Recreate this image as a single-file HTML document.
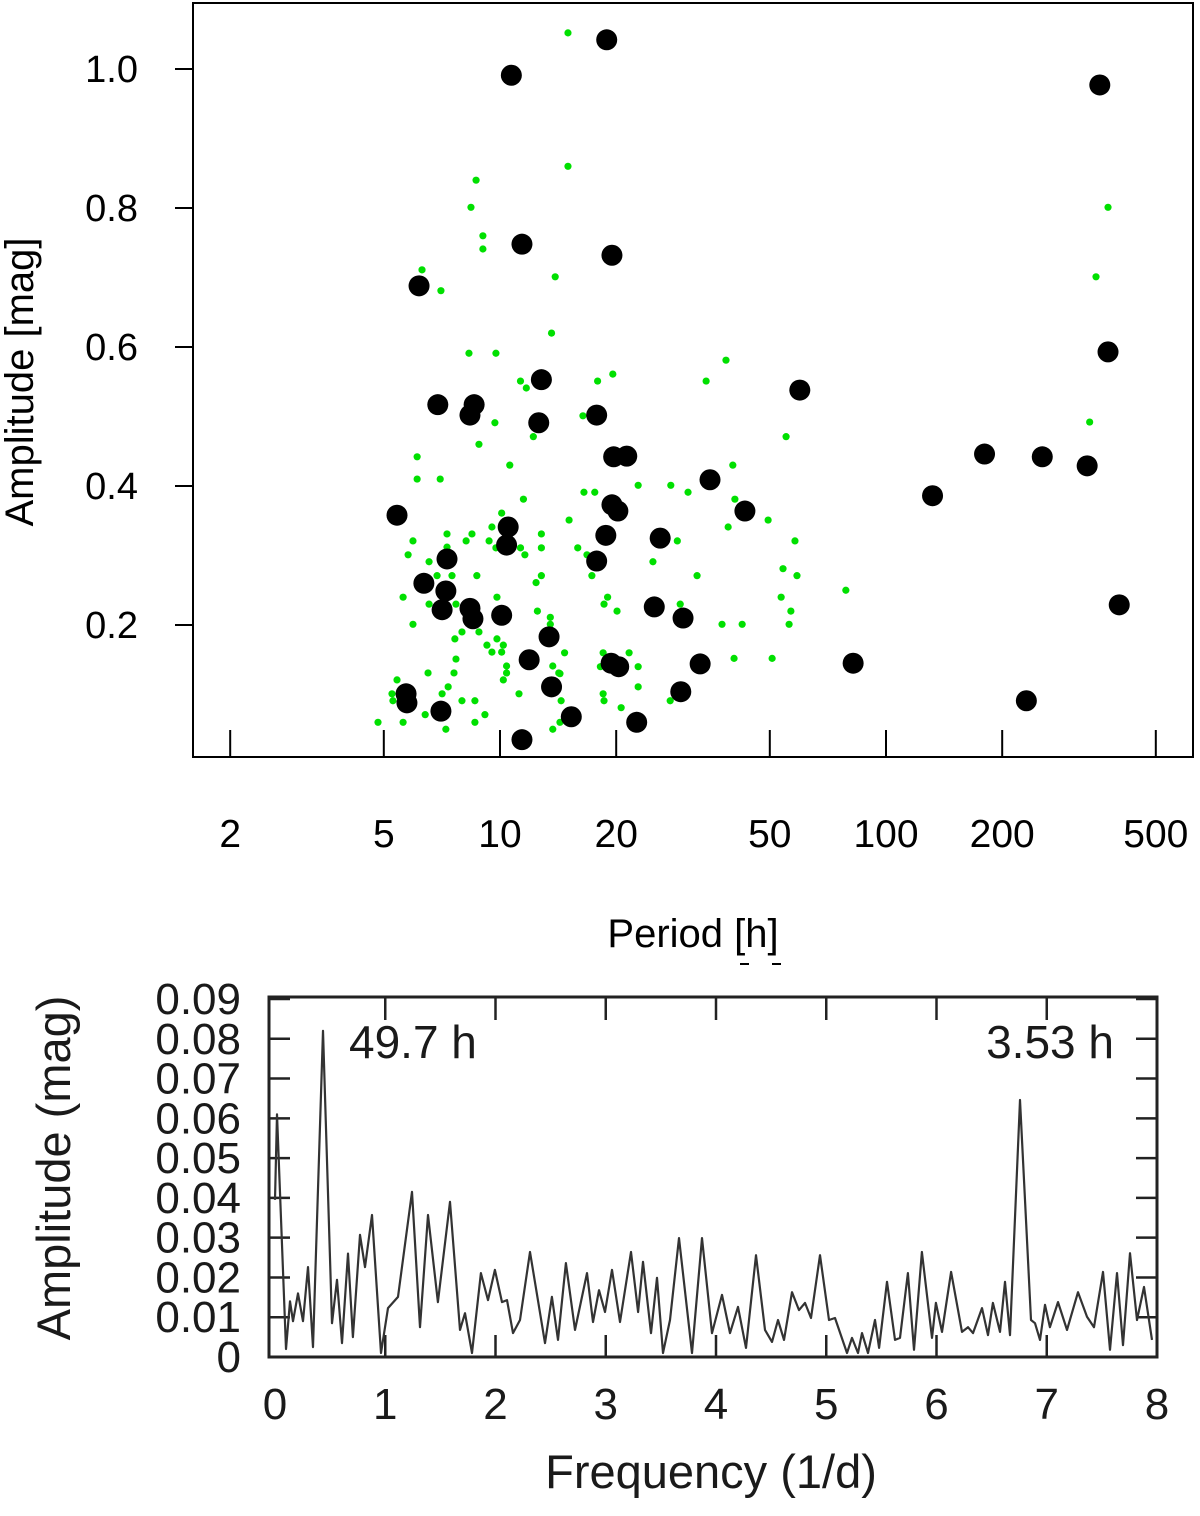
<!DOCTYPE html>
<html><head><meta charset="utf-8"><style>
html,body{margin:0;padding:0;background:#fff}
svg{display:block}
text{font-family:"Liberation Sans",Arial,sans-serif}
</style></head><body>
<svg id="fig" width="1200" height="1516" viewBox="0 0 1200 1516" xmlns="http://www.w3.org/2000/svg">
<g id="topChart"></g>
<g id="botChart"></g>
</svg>
<script>
// ---- Top scatter data ----
const blackPeriod=[18.9,10.7,358,11.4,19.5,6.17,376,59.8,12.8,6.90,8.57,8.36,17.8,12.6,180,19.7,21.3,254,332,35.0,132,19.5,20.2,43.1,5.41,10.5,18.8,26.0,10.4,7.29,17.8,6.35,7.24,7.08,8.36,8.51,10.1,25.1,29.8,402,13.4,11.9,19.4,20.3,33.0,82.2,5.71,5.74,13.6,29.4,231,7.03,15.3,22.6,11.4];
const blackAmp=[1.042,0.991,0.977,0.748,0.732,0.688,0.593,0.538,0.553,0.517,0.517,0.502,0.502,0.491,0.446,0.442,0.443,0.442,0.429,0.409,0.386,0.373,0.364,0.364,0.358,0.341,0.329,0.325,0.315,0.295,0.292,0.260,0.249,0.222,0.224,0.209,0.214,0.226,0.210,0.229,0.183,0.150,0.145,0.140,0.144,0.145,0.101,0.088,0.111,0.104,0.091,0.076,0.068,0.060,0.035];
const greenPeriod=[15.0,15.0,8.67,8.41,9.03,9.03,6.28,7.03,13.9,13.6,8.31,9.76,11.3,11.7,17.9,9.70,12.2,8.82,16.4,376,350,337,19.6,34.2,38.5,55.1,40.1,22.8,27.7,16.5,17.6,30.7,40.6,49.5,39.0,15.1,28.8,58.1,15.9,16.8,24.9,54.1,17.3,32.4,58.8,78.7,19.0,18.6,53.5,20.1,29.3,56.7,37.6,42.4,56.1,14.7,18.5,21.6,18.2,22.8,14.3,22.8,18.5,14.4,18.6,27.6,40.4,50.7,20.6,
6.10,10.6,6.10,7.00,11.5,10.1,7.29,8.46,9.53,12.8,5.95,8.17,9.37,9.76,11.3,11.6,12.8,5.78,7.29,6.55,6.87,7.51,8.71,12.8,12.4,5.61,9.82,6.55,7.69,12.5,13.5,13.5,5.95,7.97,8.82,7.64,9.82,9.25,10.2,9.53,10.1,7.69,10.4,13.7,10.4,6.51,7.60,14.2,10.2,5.41,7.34,5.25,7.08,11.2,5.28,7.97,8.61,6.40,9.14,4.83,5.61,8.61,7.24,13.7,14.3];
const greenAmp=[1.052,0.860,0.840,0.801,0.760,0.741,0.711,0.681,0.701,0.620,0.591,0.591,0.551,0.541,0.551,0.491,0.471,0.460,0.501,0.801,0.701,0.492,0.561,0.551,0.581,0.471,0.430,0.401,0.401,0.391,0.391,0.391,0.381,0.351,0.341,0.351,0.321,0.321,0.311,0.301,0.291,0.281,0.271,0.271,0.271,0.250,0.240,0.230,0.240,0.220,0.230,0.220,0.201,0.201,0.201,0.160,0.160,0.160,0.140,0.140,0.130,0.111,0.101,0.091,0.091,0.091,0.152,0.152,0.081,
0.442,0.430,0.410,0.410,0.381,0.361,0.331,0.331,0.341,0.331,0.321,0.321,0.321,0.311,0.311,0.301,0.311,0.301,0.312,0.291,0.271,0.271,0.271,0.271,0.261,0.240,0.240,0.230,0.230,0.220,0.211,0.201,0.201,0.190,0.190,0.180,0.180,0.171,0.171,0.161,0.161,0.151,0.141,0.141,0.131,0.131,0.131,0.131,0.121,0.121,0.111,0.101,0.101,0.101,0.091,0.091,0.091,0.071,0.071,0.060,0.060,0.060,0.050,0.050,0.060];
const periodTicks=[2,5,10,20,50,100,200,500];
const ampTicks=[0.2,0.4,0.6,0.8,1.0];
// ---- Periodogram data ----
const freq=[0,0.018,0.100,0.136,0.163,0.209,0.254,0.299,0.345,0.435,0.517,0.562,0.608,0.662,0.707,0.771,0.816,0.880,0.961,1.025,1.116,1.243,1.315,1.388,1.478,1.587,1.678,1.723,1.787,1.868,1.932,1.995,2.059,2.104,2.159,2.222,2.313,2.449,2.512,2.567,2.639,2.721,2.830,2.884,2.939,2.993,3.057,3.129,3.229,3.293,3.338,3.410,3.465,3.519,3.583,3.664,3.782,3.873,3.964,4.054,4.127,4.200,4.272,4.363,4.444,4.508,4.562,4.617,4.689,4.753,4.807,4.862,4.943,5.025,5.079,5.188,5.234,5.288,5.324,5.379,5.442,5.479,5.551,5.624,5.669,5.741,5.796,5.868,5.959,5.995,6.050,6.132,6.231,6.286,6.331,6.413,6.467,6.512,6.576,6.621,6.667,6.757,6.857,6.893,6.939,6.984,7.029,7.102,7.184,7.283,7.365,7.429,7.510,7.574,7.637,7.692,7.755,7.819,7.882,7.955];
const amp=[0.0395,0.061,0.002,0.014,0.009,0.016,0.009,0.0226,0.0025,0.082,0.0085,0.0194,0.0035,0.026,0.005,0.0307,0.0226,0.0357,0.001,0.0123,0.0151,0.0415,0.0075,0.0357,0.0138,0.039,0.0068,0.011,0.001,0.0211,0.0143,0.0219,0.0138,0.0143,0.006,0.0093,0.0264,0.0035,0.0151,0.0043,0.0236,0.0068,0.0211,0.0088,0.0168,0.0113,0.0219,0.0088,0.0264,0.0113,0.0239,0.006,0.0199,0.001,0.0093,0.0299,0.001,0.0299,0.006,0.0156,0.006,0.0126,0.0023,0.0256,0.0068,0.0038,0.0093,0.0043,0.0163,0.0118,0.0136,0.0098,0.0256,0.0093,0.0098,0.001,0.0048,0.001,0.006,0.001,0.0093,0.0023,0.0189,0.0043,0.0048,0.0211,0.0018,0.0264,0.0048,0.0136,0.0063,0.0214,0.0063,0.0075,0.006,0.0123,0.0055,0.0136,0.0063,0.0189,0.0055,0.0646,0.0093,0.0085,0.0043,0.0131,0.0075,0.0138,0.0068,0.0163,0.0101,0.0075,0.0214,0.0018,0.0211,0.003,0.0261,0.0093,0.0176,0.0043];
const freqTicks=[0,1,2,3,4,5,6,7,8];
const ampTicks2=[0,0.01,0.02,0.03,0.04,0.05,0.06,0.07,0.08,0.09];

const NS='http://www.w3.org/2000/svg';
function mk(parent,tag,attrs,txt){const e=document.createElementNS(NS,tag);for(const k in attrs)e.setAttribute(k,attrs[k]);if(txt!==undefined)e.textContent=txt;parent.appendChild(e);return e;}

// ---- Top chart ----
const topG=document.getElementById('topChart');
const px=p=>500+386*Math.log10(p/10);
const py=a=>69+(1-a)*695;
let r=mk(topG,'rect',{x:193,y:3,width:1000,height:754,fill:'none',stroke:'#000','stroke-width':2});


periodTicks.forEach(t=>{
 let l=mk(topG,'line',{x1:px(t),x2:px(t),y1:730,y2:757,stroke:'#000','stroke-width':2});
 
 
 let tx=mk(topG,'text',{x:px(t),y:847,'font-size':39,'text-anchor':'middle'},String(t));
 
 
});
ampTicks.forEach(t=>{
 let l=mk(topG,'line',{x1:175,x2:193,y1:py(t),y2:py(t),stroke:'#000','stroke-width':2});
 
 
 let tx=mk(topG,'text',{x:138,y:py(t)+13,'font-size':38,'text-anchor':'end'},t.toFixed(1));
 
 
});
let yt=mk(topG,'text',{x:0,y:0,'font-size':40,'text-anchor':'middle',transform:'translate(33,382) rotate(-90)'},'Amplitude [mag]');


let xt=mk(topG,'text',{x:693,y:947,'font-size':40,'text-anchor':'middle'},'Period [h]');


let d1=mk(topG,'line',{x1:740,x2:749,y1:964,y2:964,stroke:'#000','stroke-width':2});


let d2=mk(topG,'line',{x1:772,x2:781,y1:964,y2:964,stroke:'#000','stroke-width':2});


greenPeriod.forEach((p,i)=>{
 let c=mk(topG,'circle',{cx:px(p),cy:py(greenAmp[i]),r:3.6,fill:'#00e000'});
 
 
});
blackPeriod.forEach((p,i)=>{
 let c=mk(topG,'circle',{cx:px(p),cy:py(blackAmp[i]),r:10.5,fill:'#000'});
 
 
});

// ---- Bottom chart ----
const botG=document.getElementById('botChart');
const fx=f=>275+f*110.25;
const fy=a=>1357-a*3978;
const col='#222';
freqTicks.forEach(t=>{
 if(t>0&&t<8){
  let a=mk(botG,'line',{x1:fx(t),x2:fx(t),y1:997,y2:1020,stroke:col,'stroke-width':2.5});
  
  
  let b=mk(botG,'line',{x1:fx(t),x2:fx(t),y1:1335,y2:1357,stroke:col,'stroke-width':2.5});
  
  
 }
 let tx=mk(botG,'text',{x:fx(t),y:1419,'font-size':44,'text-anchor':'middle',fill:'#1a1a1a'},String(t));
 
 
});
ampTicks2.forEach(t=>{
 if(t>0){
  let a=mk(botG,'line',{x1:269,x2:290,y1:fy(t),y2:fy(t),stroke:col,'stroke-width':2.5});
  
  
  let b=mk(botG,'line',{x1:1136,x2:1157,y1:fy(t),y2:fy(t),stroke:col,'stroke-width':2.5});
  
  
 }
 let tx=mk(botG,'text',{x:241,y:fy(t)+15,'font-size':44,'text-anchor':'end',fill:'#1a1a1a'},t===0?'0':t.toFixed(2));
 
 
});
let pth='';
freq.forEach((f,i)=>{pth+=(i?'L':'M')+fx(f).toFixed(1)+','+fy(amp[i]).toFixed(1);});
let ln=mk(botG,'path',{d:pth,fill:'none',stroke:'#333','stroke-width':2.2,'stroke-linejoin':'round'});


let fr=mk(botG,'rect',{x:269,y:997,width:888,height:360,fill:'none',stroke:col,'stroke-width':3});


let l1=mk(botG,'text',{x:349,y:1058,'font-size':46,fill:'#1a1a1a'},'49.7 h');


let l2=mk(botG,'text',{x:1114,y:1058,'font-size':46,'text-anchor':'end',fill:'#1a1a1a'},'3.53 h');


let by=mk(botG,'text',{x:0,y:0,'font-size':47,'text-anchor':'middle',fill:'#1a1a1a',transform:'translate(70,1168) rotate(-90)'},'Amplitude (mag)');


let bx=mk(botG,'text',{x:711,y:1488,'font-size':47,'text-anchor':'middle',fill:'#1a1a1a'},'Frequency (1/d)');


</script>
</body></html>
